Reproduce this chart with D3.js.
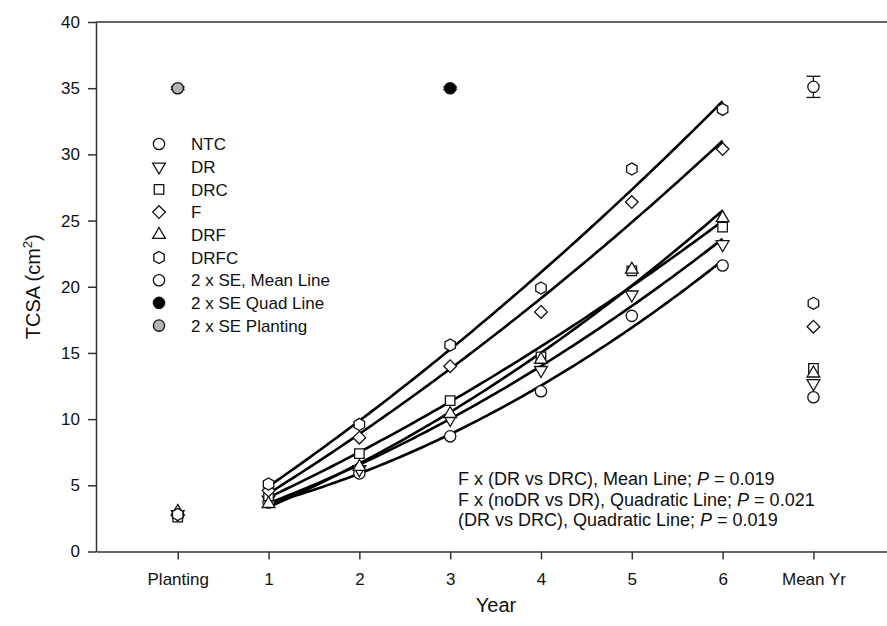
<!DOCTYPE html>
<html>
<head>
<meta charset="utf-8">
<script src="https://cdn.jsdelivr.net/npm/d3@7/dist/d3.min.js"></script>
<style>
  body { margin: 0; background: #fff; }
  svg { display: block; font-family: "Liberation Sans", Arial, sans-serif; }
</style>
</head>
<body>
<svg width="887" height="626"></svg>
<script>
// x categories: Planting, years 1-6, Mean Yr
var years = ["Planting", "1", "2", "3", "4", "5", "6", "Mean Yr"];

// TCSA values per treatment (index = position in years)
var ntc  = [2.7, 3.7, 5.9,  8.7, 12.1, 17.8, 21.6, 11.65];
var dr   = [2.8, 3.9, 6.2, 10.0, 13.7, 19.4, 23.2, 12.7];
var drc  = [2.6, 4.2, 7.4, 11.4, 14.7, 21.2, 24.5, 13.84];
var f    = [2.8, 4.6, 8.6, 14.0, 18.1, 26.4, 30.4, 16.98];
var drf  = [3.0, 3.6, 6.4, 10.4, 14.5, 21.3, 25.2, 13.46];
var drfc = [2.8, 5.1, 9.6, 15.6, 19.9, 28.9, 33.4, 18.75];

// 2 x SE markers: [position, value, lower, upper]
var seMean  = [7, 35.1, 34.3, 35.9];
var seQuad  = [3, 35.0, 34.9, 35.1];
var sePlant = [0, 35.0, 34.9, 35.1];

var yTicks = [0, 5, 10, 15, 20, 25, 30, 35, 40];

var notes = [
  ["F x (DR vs DRC), Mean Line; ", "0.019"],
  ["F x (noDR vs DR), Quadratic Line; ", "0.021"],
  ["(DR vs DRC), Quadratic Line; ", "0.019"]
];

var svg = d3.select("svg");

var x = d3.scaleLinear().domain([-0.9, 7.81]).range([96, 887]);
var y = d3.scaleLinear().domain([0, 40]).range([551.5, 22]);

// marker shapes
var hexagon = {
  draw: function(ctx, size) {
    var r = Math.sqrt(size / (1.5 * Math.sqrt(3)));
    for (var i = 0; i < 6; i++) {
      var a = -Math.PI / 2 + i * Math.PI / 3;
      if (i === 0) ctx.moveTo(r * Math.cos(a), r * Math.sin(a));
      else ctx.lineTo(r * Math.cos(a), r * Math.sin(a));
    }
    ctx.closePath();
  }
};
var triDown = {
  draw: function(ctx, size) {
    var r = Math.sqrt(size / (0.75 * Math.sqrt(3)));
    ctx.moveTo(0, r);
    ctx.lineTo(r * 0.866, -r * 0.5);
    ctx.lineTo(-r * 0.866, -r * 0.5);
    ctx.closePath();
  }
};
var triUp = {
  draw: function(ctx, size) {
    var r = Math.sqrt(size / (0.75 * Math.sqrt(3)));
    ctx.moveTo(0, -r);
    ctx.lineTo(r * 0.866, r * 0.5);
    ctx.lineTo(-r * 0.866, r * 0.5);
    ctx.closePath();
  }
};
var diamond = {
  draw: function(ctx, size) {
    var h = Math.sqrt(size / 2);
    ctx.moveTo(0, -h); ctx.lineTo(h, 0); ctx.lineTo(0, h); ctx.lineTo(-h, 0);
    ctx.closePath();
  }
};

var series = [
  { name: "NTC",  values: ntc,  type: d3.symbolCircle, size: 100 },
  { name: "DR",   values: dr,   type: triDown,         size: 70 },
  { name: "DRC",  values: drc,  type: d3.symbolSquare, size: 90 },
  { name: "F",    values: f,    type: diamond,         size: 80 },
  { name: "DRF",  values: drf,  type: triUp,           size: 70 },
  { name: "DRFC", values: drfc, type: hexagon,         size: 95 }
];

// quadratic least-squares fit over years 1-6
function quadFit(vals) {
  var xs = [1, 2, 3, 4, 5, 6], ys = vals.slice(1, 7);
  var mx = d3.mean(xs), my = d3.mean(ys);
  var t = xs.map(function(v) { return v - mx; });
  var mt2 = d3.mean(t, function(v) { return v * v; });
  var u = t.map(function(v) { return v * v - mt2; });
  var b = d3.sum(t, function(v, i) { return v * ys[i]; }) / d3.sum(t, function(v) { return v * v; });
  var c = d3.sum(u, function(v, i) { return v * ys[i]; }) / d3.sum(u, function(v) { return v * v; });
  return function(xx) { var tt = xx - mx; return my + b * tt + c * (tt * tt - mt2); };
}

var line = d3.line().x(function(d) { return x(d[0]); }).y(function(d) { return y(d[1]); });

// axes
var xAxis = d3.axisBottom(x).tickValues(d3.range(8)).tickSize(8).tickSizeOuter(0)
  .tickFormat(function(d) { return years[d]; });
var gx = svg.append("g").attr("transform", "translate(0," + y(0) + ")").call(xAxis);
gx.selectAll("text").attr("dy", "1.3em");

var yAxis = d3.axisLeft(y).tickValues(yTicks).tickSize(8).tickSizeOuter(0);
var gy = svg.append("g").attr("transform", "translate(" + x(-0.9) + ",0)").call(yAxis);
gy.selectAll("text").attr("x", -16);

svg.selectAll(".tick text").attr("font-size", 17).attr("font-family", "Liberation Sans, Arial, sans-serif").attr("fill", "#111");
svg.selectAll(".domain, .tick line").attr("stroke", "#333").attr("stroke-width", 1.5);

// top frame line
svg.append("line").attr("x1", x(-0.9)).attr("x2", 887).attr("y1", y(40)).attr("y2", y(40))
  .attr("stroke", "#333").attr("stroke-width", 1.5);

// axis titles
svg.append("text").attr("x", 496).attr("y", 612).attr("text-anchor", "middle")
  .attr("font-size", 20).attr("fill", "#111").text("Year");
var yt = svg.append("text").attr("transform", "translate(40," + (y(20)) + ") rotate(-90)")
  .attr("text-anchor", "middle").attr("font-size", 20).attr("fill", "#111");
yt.append("tspan").text("TCSA (cm");
yt.append("tspan").attr("font-size", 13).attr("dy", -8).text("2");
yt.append("tspan").attr("dy", 8).text(")");

// fitted curves
series.forEach(function(s) {
  var fit = quadFit(s.values);
  var pts = d3.range(1, 6.001, 0.05).map(function(xx) { return [xx, fit(xx)]; });
  svg.append("path").attr("d", line(pts)).attr("fill", "none")
    .attr("stroke", "#000").attr("stroke-width", 2.6);
});

// points
series.forEach(function(s) {
  svg.append("g").selectAll("path").data(s.values).join("path")
    .attr("transform", function(d, i) { return "translate(" + x(i) + "," + y(d) + ")"; })
    .attr("d", d3.symbol().type(s.type).size(s.size))
    .attr("fill", "#fff").attr("stroke", "#111").attr("stroke-width", 1.3);
});

// 2 x SE markers with error bars
function seMarker(d, fill) {
  var g = svg.append("g");
  g.append("line").attr("x1", x(d[0])).attr("x2", x(d[0])).attr("y1", y(d[2])).attr("y2", y(d[3]))
    .attr("stroke", "#111").attr("stroke-width", 1.3);
  [d[2], d[3]].forEach(function(v) {
    g.append("line").attr("x1", x(d[0]) - 7).attr("x2", x(d[0]) + 7).attr("y1", y(v)).attr("y2", y(v))
      .attr("stroke", "#111").attr("stroke-width", 1.3);
  });
  g.append("path").attr("transform", "translate(" + x(d[0]) + "," + y(d[1]) + ")")
    .attr("d", d3.symbol().type(d3.symbolCircle).size(100))
    .attr("fill", fill).attr("stroke", "#111").attr("stroke-width", 1.3);
}
seMarker(seMean, "#fff");
seMarker(seQuad, "#000");
seMarker(sePlant, "#b4b4b4");

// legend
var legend = series.map(function(s) { return { name: s.name, type: s.type, size: s.size, fill: "#fff" }; })
  .concat([
    { name: "2 x SE, Mean Line", type: d3.symbolCircle, size: 100, fill: "#fff" },
    { name: "2 x SE Quad Line", type: d3.symbolCircle, size: 100, fill: "#000" },
    { name: "2 x SE Planting", type: d3.symbolCircle, size: 100, fill: "#b4b4b4" }
  ]);
var lg = svg.append("g").selectAll("g").data(legend).join("g")
  .attr("transform", function(d, i) { return "translate(159," + (144 + i * 22.7) + ")"; });
lg.append("path").attr("d", function(d) { return d3.symbol().type(d.type).size(d.size)(); })
  .attr("fill", function(d) { return d.fill; }).attr("stroke", "#111").attr("stroke-width", 1.3);
lg.append("text").attr("x", 32).attr("y", 6.2).attr("font-size", 17).attr("fill", "#111")
  .text(function(d) { return d.name; });

// annotation
var nt = svg.append("g").selectAll("text").data(notes).join("text")
  .attr("x", 458).attr("y", function(d, i) { return 485 + i * 20.7; })
  .attr("font-size", 18).attr("fill", "#111");
nt.append("tspan").text(function(d) { return d[0]; });
nt.append("tspan").attr("font-style", "italic").text("P");
nt.append("tspan").text(function(d) { return " = " + d[1]; });
</script>
</body>
</html>
